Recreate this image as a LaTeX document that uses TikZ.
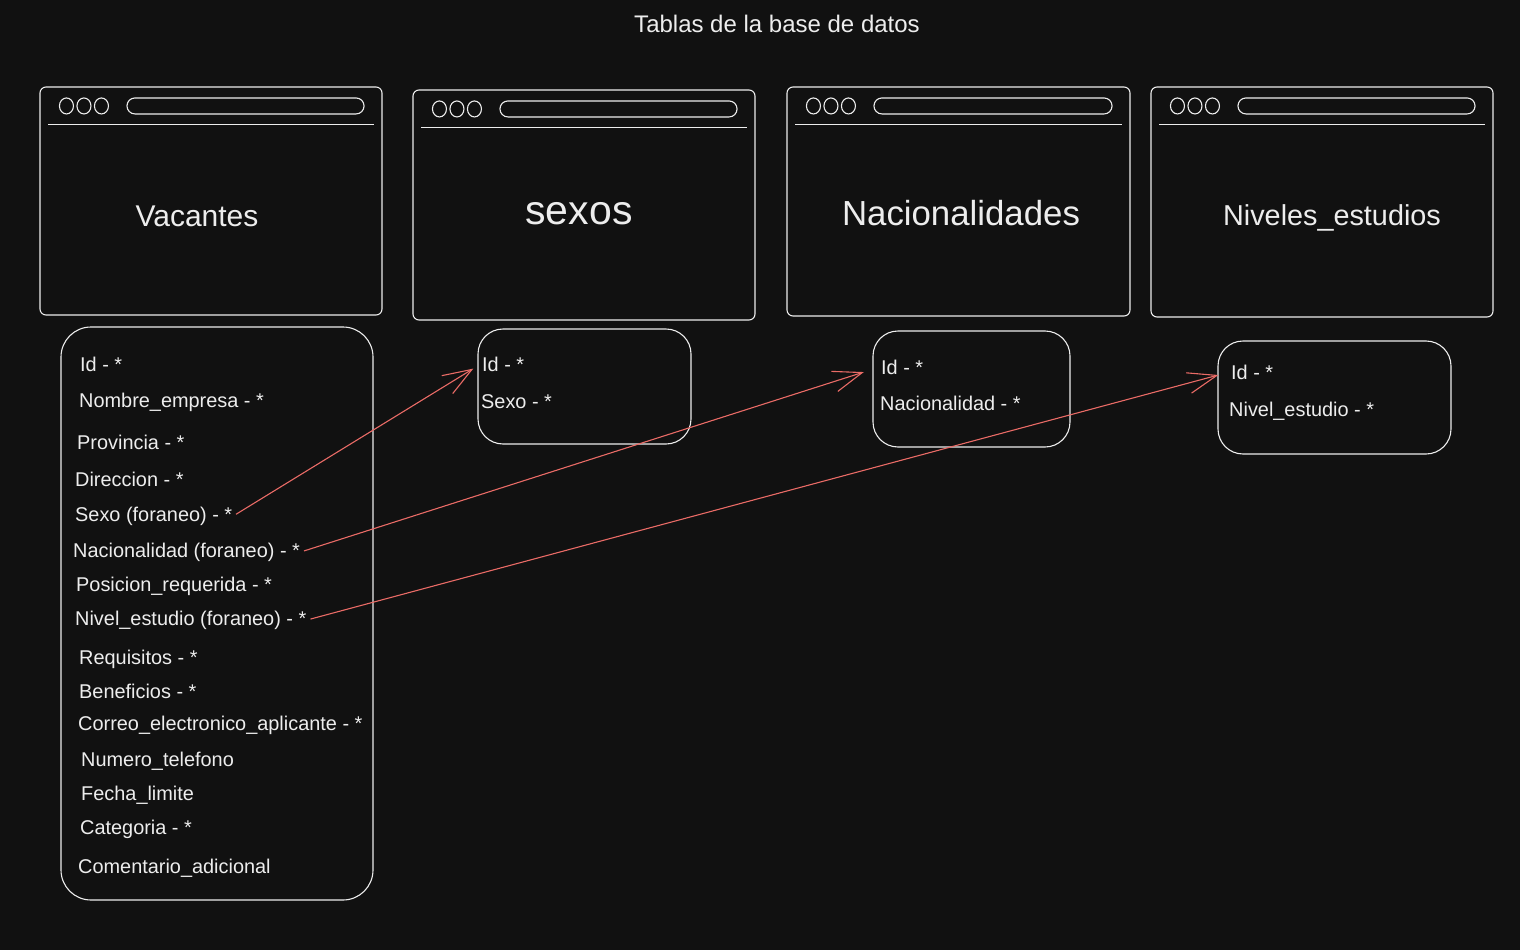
\documentclass[tikz,border=0pt]{standalone}
\usepackage{fontspec}
\setmainfont{Liberation Sans}
\usetikzlibrary{arrows.meta,calc}
\definecolor{bg}{HTML}{111111}
\definecolor{ink}{HTML}{EDEDED}
\definecolor{link}{HTML}{EA6B66}

% browser chrome: three buttons, address bar and separator under the top edge
\newcommand{\winchrome}[1]{%
  \draw[chrome] ($(#1.north west)+(27,19.5)$) ellipse [x radius=7pt, y radius=8pt];
  \draw[chrome] ($(#1.north west)+(44.5,19.5)$) ellipse [x radius=7pt, y radius=8pt];
  \draw[chrome] ($(#1.north west)+(62,19.5)$) ellipse [x radius=7pt, y radius=8pt];
  \draw[chrome, rounded corners=8pt] ($(#1.north west)+(87.5,11.5)$) rectangle ($(#1.north east)+(-18.5,27.5)$);
  \draw[chrome] ($(#1.north west)+(9,38)$) -- ($(#1.north east)+(-9,38)$);
}

\begin{document}
\begin{tikzpicture}[x=1pt,y=-1pt,
  frame/.style={draw=ink, line width=1.1pt, rounded corners=6pt, inner sep=0pt},
  chrome/.style={draw=ink, line width=1.1pt},
  tbl/.style={draw=ink, line width=1.1pt, inner sep=0pt},
  wintitle/.style={anchor=base, text=ink, inner sep=0pt},
  field/.style={anchor=base west, text=ink, inner sep=1pt, font=\fontsize{19.9}{22}\selectfont},
  fk/.style={draw=link, line width=1.1pt, -{Straight Barb[length=29pt,width=21pt,line width=1.1pt]}}]

\fill[bg] (0,0) rectangle (1520,950);
\useasboundingbox (0,0) rectangle (1520,950);

\node[wintitle, font=\fontsize{24}{27}\selectfont] (title) at (777,32.5) {Tablas de la base de datos};

% table windows
\node[frame, minimum width=342pt, minimum height=228pt] (wVac) at (211,201) {};
\node[frame, minimum width=342pt, minimum height=230pt] (wSex) at (584,205) {};
\node[frame, minimum width=343pt, minimum height=229pt] (wNac) at (958.5,201.5) {};
\node[frame, minimum width=342pt, minimum height=230pt] (wNiv) at (1322,202) {};
\winchrome{wVac}
\winchrome{wSex}
\winchrome{wNac}
\winchrome{wNiv}

\node[wintitle, font=\fontsize{30}{34}\selectfont] (tVac) at (197,226) {Vacantes};
\node[wintitle, font=\fontsize{41}{46}\selectfont] (tSex) at (579,224) {sexos};
\node[wintitle, font=\fontsize{34.8}{40}\selectfont] (tNac) at (961,225.5) {Nacionalidades};
\node[wintitle, font=\fontsize{28.8}{33}\selectfont] (tNiv) at (1332,225) {Niveles\_estudios};

% field lists
\node[tbl, rounded corners=30pt, minimum width=312pt, minimum height=573pt] (bVac) at (217,613.5) {};
\node[tbl, rounded corners=25pt, minimum width=213pt, minimum height=115pt] (bSex) at (584.5,386.5) {};
\node[tbl, rounded corners=25pt, minimum width=197pt, minimum height=116pt] (bNac) at (971.5,389) {};
\node[tbl, rounded corners=25pt, minimum width=233pt, minimum height=113pt] (bNiv) at (1334.5,397.5) {};

\node[field] (v1) at (79,371) {Id - *};
\node[field] (v2) at (78,407) {Nombre\_empresa - *};
\node[field] (v3) at (76,449) {Provincia - *};
\node[field] (v4) at (74,486) {Direccion - *};
\node[field] (v5) at (74,521) {Sexo (foraneo) - *};
\node[field] (v6) at (72,557) {Nacionalidad (foraneo) - *};
\node[field] (v7) at (75,591) {Posicion\_requerida - *};
\node[field] (v8) at (74,625) {Nivel\_estudio (foraneo) - *};
\node[field] (v9) at (78,664) {Requisitos - *};
\node[field] (v10) at (78,698) {Beneficios - *};
\node[field] (v11) at (77,730) {Correo\_electronico\_aplicante - *};
\node[field] (v12) at (80,766) {Numero\_telefono};
\node[field] (v13) at (80,800) {Fecha\_limite};
\node[field] (v14) at (79,834) {Categoria - *};
\node[field] (v15) at (77,873) {Comentario\_adicional};

\node[field] (s1) at (481,371) {Id - *};
\node[field] (s2) at (480,408) {Sexo - *};

\node[field] (n1) at (880,374) {Id - *};
\node[field] (n2) at (879,410) {Nacionalidad - *};

\node[field] (l1) at (1230,379) {Id - *};
\node[field] (l2) at (1228,416) {Nivel\_estudio - *};

% foreign keys
\draw[fk, shorten <=3pt, shorten >=9pt] (v5.east) -- (s1.west);
\draw[fk, shorten <=3pt, shorten >=17pt] (v6.east) -- (n1.west);
\draw[fk, shorten <=3pt, shorten >=12pt] (v8.east) -- (l1.west);

\end{tikzpicture}
\end{document}
